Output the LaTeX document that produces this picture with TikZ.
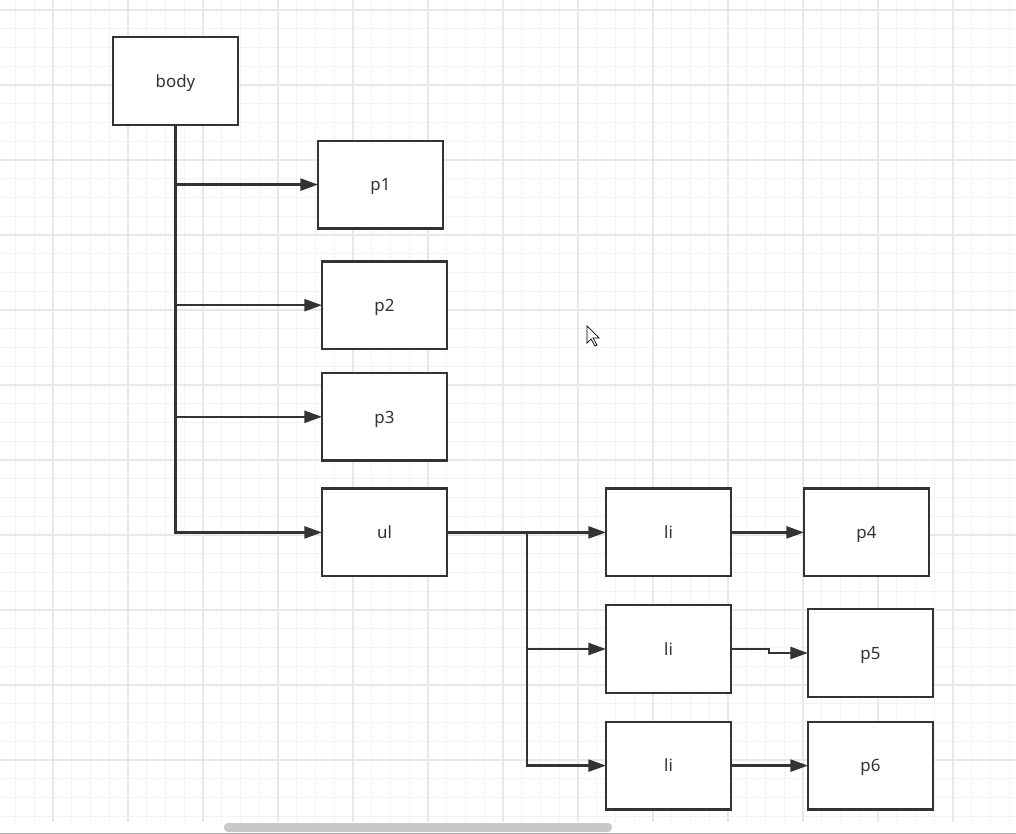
\documentclass[tikz,border=0pt]{standalone}
\usepackage{fontspec}
\setmainfont{Noto Sans}
\usetikzlibrary{positioning, arrows.meta, calc}
\definecolor{inkgray}{HTML}{333333}
\definecolor{gridminor}{HTML}{F3F3F3}
\definecolor{gridmajor}{HTML}{E8E8E8}
\definecolor{barthumb}{HTML}{C8C8C8}
\definecolor{barline}{HTML}{AAAAAA}

\begin{document}
\begin{tikzpicture}[>={Triangle[length=12.5pt, width=8.5pt]},
    elem/.style={rectangle, draw=inkgray, fill=white, line width=1.7pt, minimum width=3.125cm, minimum height=2.19cm, outer sep=0pt, inner sep=0pt, text height=9pt, text depth=0pt, text=inkgray, font=\fontsize{12}{14}\selectfont},
    link/.style={->, draw=inkgray, line width=1.7pt},
    gridline/.style={line width=0.75pt}]

    \useasboundingbox (0,0) rectangle (25.4,-20.85);

    % Grid background
    \foreach \i in {-2,...,51} \draw[gridline, gridminor] ({1.325+0.46875*\i},0) -- ++(0,-20.55);
    \foreach \j in {0,...,43} \draw[gridline, gridminor] (0,{-0.25-0.46875*\j}) -- ++(25.4,0);
    \foreach \i in {0,4,...,48} \draw[gridline, gridmajor] ({1.325+0.46875*\i},0) -- ++(0,-20.55);
    \foreach \j in {0,4,...,40} \draw[gridline, gridmajor] (0,{-0.25-0.46875*\j}) -- ++(25.4,0);

    % Document tree
    \node[elem] (body) at (4.3875,-2.025) {body};
    \node[elem, below right=0.4cm and 2cm of body] (p1) {p1};
    \node[elem, below=0.825cm of p1, xshift=0.1cm] (p2) {p2};
    \node[elem, below=0.6cm of p2] (p3) {p3};
    \node[elem, below=0.7cm of p3] (ul) {ul};
    \node[elem, right=3.975cm of ul] (li1) {li};
    \node[elem, right=1.825cm of li1] (p4) {p4};
    \node[elem, below=0.725cm of li1] (li2) {li};
    \node[elem, right=1.925cm of li2, yshift=-0.1cm] (p5) {p5};
    \node[elem, below=0.725cm of li2] (li3) {li};
    \node[elem, right=1.925cm of li3] (p6) {p6};

    % Connections
    \coordinate[right=2cm of ul.east] (ulfork);
    \draw[link] (body.south) |- (p1.west);
    \draw[link] (body.south) |- (p2.west);
    \draw[link] (body.south) |- (p3.west);
    \draw[link] (body.south) |- (ul.west);
    \draw[link] (ul.east) -- (li1.west);
    \draw[link] (ulfork) |- (li2.west);
    \draw[link] (ulfork) |- (li3.west);
    \draw[link] (li1.east) -- (p4.west);
    \draw[link] (li2.east) -- ++(0.95,0) |- (p5.west);
    \draw[link] (li3.east) -- (p6.west);

    % Mouse pointer
    \filldraw[fill=white, draw=black, line width=0.5pt] (14.675,-8.15) -- ++(0,-0.425) -- ++(0.1,0.1) -- ++(0.1,-0.175) -- ++(0.05,0.025) -- ++(-0.1,0.175) -- ++(0.15,0) -- cycle;

    % Scroll bar
    \fill[barthumb, rounded corners=0.1cm] (5.6,-20.575) rectangle (15.3,-20.8);
    \draw[barline, line width=1pt] (0,-20.83) -- (25.4,-20.83);
\end{tikzpicture}
\end{document}
